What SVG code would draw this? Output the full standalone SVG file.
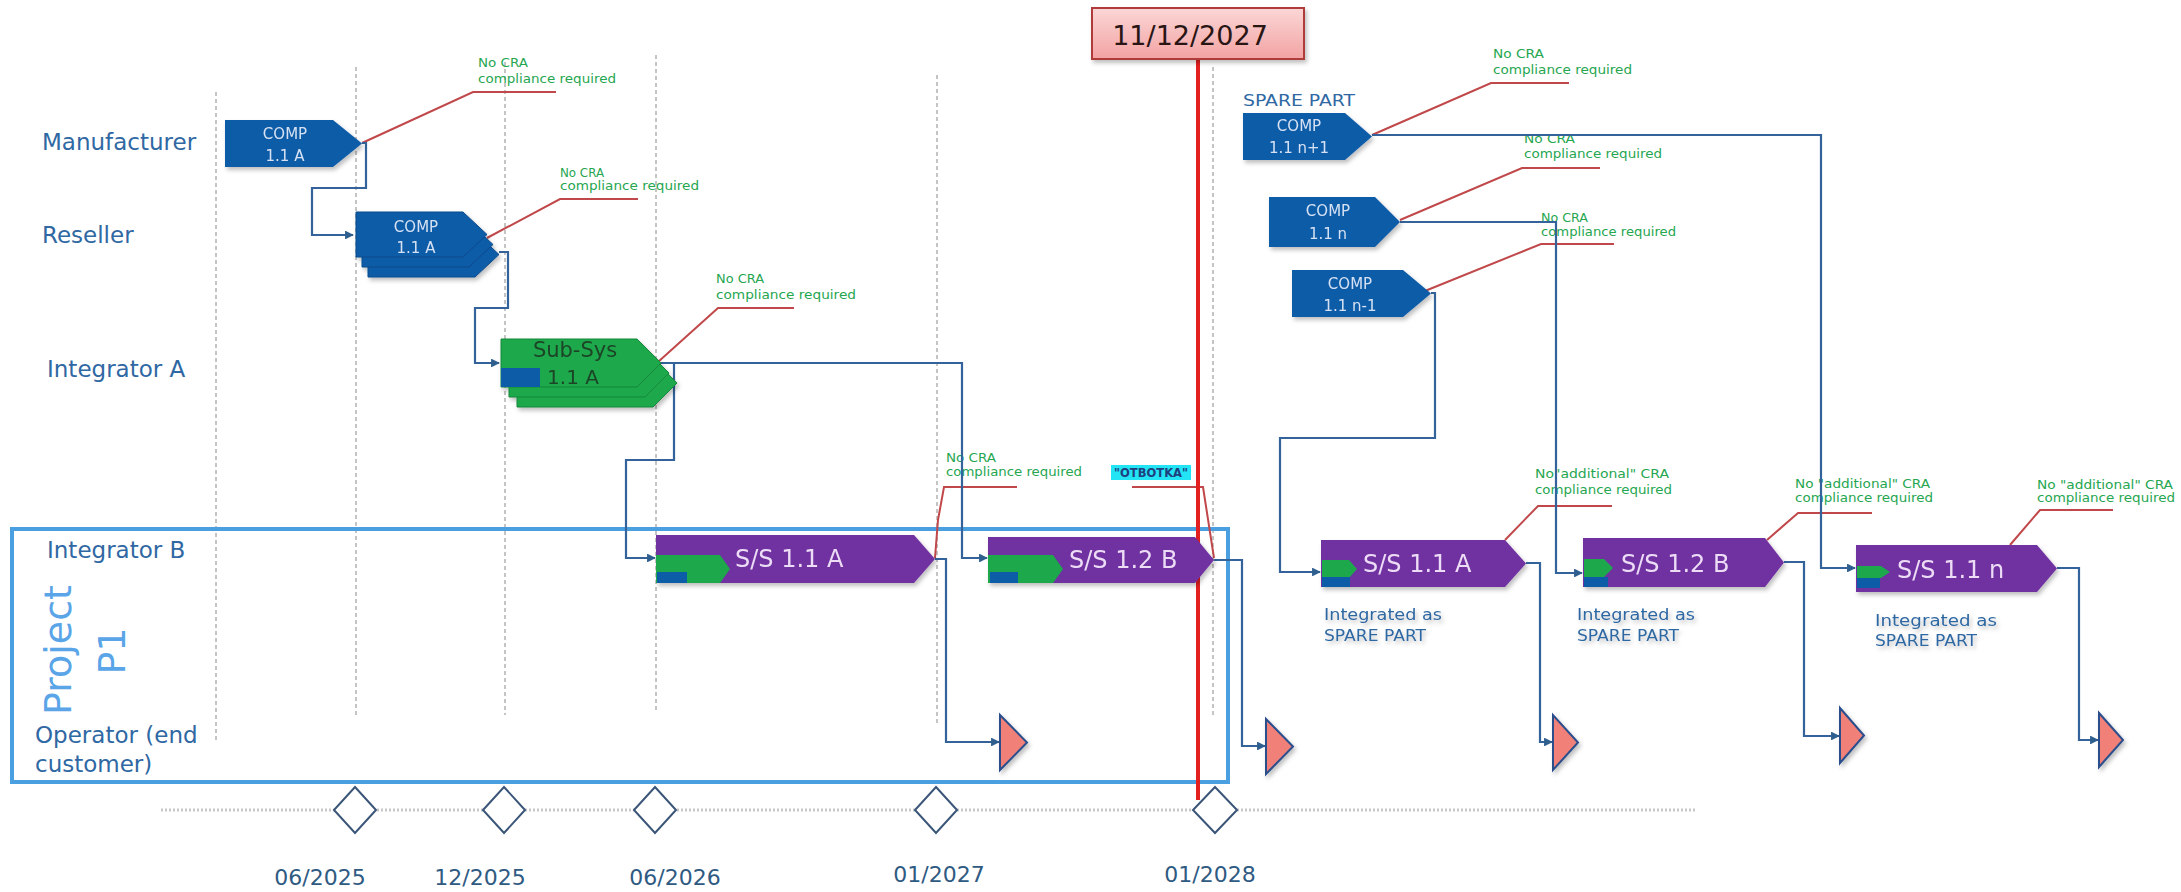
<svg xmlns="http://www.w3.org/2000/svg" width="2181" height="892" viewBox="0 0 2181 892">
<defs>
  <style>
    .lbl{font-family:"DejaVu Sans","Liberation Sans",sans-serif;font-size:23px;fill:#2f68a3}
    .date{font-family:"DejaVu Sans","Liberation Sans",sans-serif;font-size:22px;fill:#2f5a82}
    .grn{font-family:"DejaVu Sans","Liberation Sans",sans-serif;font-size:12px;fill:#25a650}
    .comp{fill:#0e5ba8}
    .compt{font-family:"DejaVu Sans","Liberation Sans",sans-serif;font-size:15px;fill:#d6e2f3;text-anchor:middle}
    .ss{fill:#7030a0}
    .sst{font-family:"DejaVu Sans","Liberation Sans",sans-serif;font-size:24px;fill:#ecdcf6}
    .gr{fill:#1ea84b}
    .grs{fill:#1ea84b;stroke:#15893a;stroke-width:1}
    .bl{fill:#0e5ba8}
    .con{fill:none;stroke:#33639a;stroke-width:2.2}
    .red{fill:none;stroke:#c0484a;stroke-width:2}
    .vd{fill:none;stroke:#8a8a8a;stroke-width:1;stroke-dasharray:4 3}
    .dia{fill:#ffffff;stroke:#3a5577;stroke-width:2}
    .tri{fill:#f08078;stroke:#2b4e8c;stroke-width:2}
    .spt{font-family:"DejaVu Sans","Liberation Sans",sans-serif;font-size:16px;fill:#2f68a3}
  </style>
  <marker id="arr" viewBox="0 0 10 10" refX="9" refY="5" markerWidth="4" markerHeight="4" orient="auto">
    <path d="M0,0 L10,5 L0,10 z" fill="#2f5f8f"/>
  </marker>
  <linearGradient id="pink" x1="0" y1="0" x2="0" y2="1">
    <stop offset="0" stop-color="#fbd6d6"/>
    <stop offset="1" stop-color="#f3a3a3"/>
  </linearGradient>
  <filter id="sh" x="-10%" y="-10%" width="130%" height="140%">
    <feDropShadow dx="2" dy="3" stdDeviation="2" flood-color="#000" flood-opacity="0.25"/>
  </filter>
</defs>
<rect width="2181" height="892" fill="#ffffff"/>

<!-- grid dashed lines -->
<g id="gridlines">
  <line class="vd" x1="216" y1="92" x2="216" y2="743"/>
  <line class="vd" x1="356" y1="67" x2="356" y2="715"/>
  <line class="vd" x1="505" y1="62" x2="505" y2="715"/>
  <line class="vd" x1="656" y1="55" x2="656" y2="712"/>
  <line class="vd" x1="937" y1="75" x2="937" y2="723"/>
  <line class="vd" x1="1213" y1="67" x2="1213" y2="715"/>
</g>

<!-- timeline -->
<g id="timeline">
  <line x1="161" y1="810" x2="1697" y2="810" stroke="#c8c8c8" stroke-width="3" stroke-dasharray="2 2"/>
  <path class="dia" d="M355,787 L376,810 L355,833 L334,810 Z"/>
  <path class="dia" d="M504,787 L525,810 L504,833 L483,810 Z"/>
  <path class="dia" d="M655,787 L676,810 L655,833 L634,810 Z"/>
  <path class="dia" d="M936,787 L957,810 L936,833 L915,810 Z"/>
  <text class="date" x="320" y="885" text-anchor="middle">06/2025</text>
  <text class="date" x="480" y="885" text-anchor="middle">12/2025</text>
  <text class="date" x="675" y="885" text-anchor="middle">06/2026</text>
  <text class="date" x="939" y="882" text-anchor="middle">01/2027</text>
  <text class="date" x="1210" y="882" text-anchor="middle">01/2028</text>
</g>

<!-- project box -->
<g id="project">
  <rect x="12" y="529" width="1216" height="253" fill="none" stroke="#4a9fe0" stroke-width="4"/>
  <text transform="translate(71,650) rotate(-90)" text-anchor="middle" style="font-family:'DejaVu Sans','Liberation Sans',sans-serif;font-size:38px;fill:#5aa5e8">Project</text>
  <text transform="translate(125,651) rotate(-90)" text-anchor="middle" style="font-family:'DejaVu Sans','Liberation Sans',sans-serif;font-size:38px;fill:#5aa5e8">P1</text>
</g>

<!-- row labels -->
<g id="rows">
  <text class="lbl" x="42" y="150">Manufacturer</text>
  <text class="lbl" x="42" y="243">Reseller</text>
  <text class="lbl" x="47" y="377">Integrator A</text>
  <text class="lbl" x="47" y="558">Integrator B</text>
  <text class="lbl" x="35" y="743">Operator (end</text>
  <text class="lbl" x="35" y="772">customer)</text>
</g>

<!-- annotations -->
<g id="annotations">
  <path class="red" d="M556,92 H473 L362,143"/>
  <text class="grn" x="478" y="67" textLength="50" lengthAdjust="spacingAndGlyphs">No CRA</text>
  <text class="grn" x="478" y="83" textLength="138" lengthAdjust="spacingAndGlyphs">compliance required</text>

  <path class="red" d="M638,199 H560 L487,238"/>
  <text class="grn" x="560" y="177" textLength="44" lengthAdjust="spacingAndGlyphs">No CRA</text>
  <text class="grn" x="560" y="190" textLength="139" lengthAdjust="spacingAndGlyphs">compliance required</text>

  <path class="red" d="M794,308 H718 L658,362"/>
  <text class="grn" x="716" y="283" textLength="48" lengthAdjust="spacingAndGlyphs">No CRA</text>
  <text class="grn" x="716" y="299" textLength="140" lengthAdjust="spacingAndGlyphs">compliance required</text>

  <path class="red" d="M1017,487 H944 L938,520 L935,558"/>
  <text class="grn" x="946" y="462" textLength="50" lengthAdjust="spacingAndGlyphs">No CRA</text>
  <text class="grn" x="946" y="476" textLength="136" lengthAdjust="spacingAndGlyphs">compliance required</text>

  <path class="red" d="M1132,487 H1203 L1214,558"/>
  <rect x="1111" y="465" width="80" height="15" fill="#22e4f4"/>
  <text x="1151" y="477" text-anchor="middle" textLength="74" lengthAdjust="spacingAndGlyphs" style="font-family:'DejaVu Sans','Liberation Sans',sans-serif;font-size:12px;font-weight:bold;fill:#1f3f7f">"OTBOTKA"</text>

  <path class="red" d="M1569,83 H1491 L1372,135"/>
  <text class="grn" x="1493" y="58" textLength="51" lengthAdjust="spacingAndGlyphs">No CRA</text>
  <text class="grn" x="1493" y="74" textLength="139" lengthAdjust="spacingAndGlyphs">compliance required</text>

  <path class="red" d="M1600,168 H1522 L1400,220"/>
  <text class="grn" x="1524" y="143" textLength="51" lengthAdjust="spacingAndGlyphs">No CRA</text>
  <text class="grn" x="1524" y="158" textLength="138" lengthAdjust="spacingAndGlyphs">compliance required</text>

  <path class="red" d="M1614,244 H1541 L1420,293"/>
  <text class="grn" x="1541" y="222" textLength="47" lengthAdjust="spacingAndGlyphs">No CRA</text>
  <text class="grn" x="1541" y="236" textLength="135" lengthAdjust="spacingAndGlyphs">compliance required</text>

  <path class="red" d="M1612,506 H1538 L1505,540"/>
  <text class="grn" x="1535" y="478" textLength="134" lengthAdjust="spacingAndGlyphs">No"additional" CRA</text>
  <text class="grn" x="1535" y="494" textLength="137" lengthAdjust="spacingAndGlyphs">compliance required</text>

  <path class="red" d="M1872,513 H1798 L1767,540"/>
  <text class="grn" x="1795" y="488" textLength="135" lengthAdjust="spacingAndGlyphs">No "additional" CRA</text>
  <text class="grn" x="1795" y="502" textLength="138" lengthAdjust="spacingAndGlyphs">compliance required</text>

  <path class="red" d="M2113,510 H2040 L2010,545"/>
  <text class="grn" x="2037" y="489" textLength="136" lengthAdjust="spacingAndGlyphs">No "additional" CRA</text>
  <text class="grn" x="2037" y="502" textLength="138" lengthAdjust="spacingAndGlyphs">compliance required</text>
</g>

<!-- connectors -->
<g id="connectors">
  <path class="con" d="M362,143 H366 V188 H312 V235 H353" marker-end="url(#arr)"/>
  <path class="con" d="M499,252 H508 V308 H475 V363 H499" marker-end="url(#arr)"/>
  <path class="con" d="M661,363 H962 V558 H987" marker-end="url(#arr)"/>
  <path class="con" d="M674,363 V460 H626 V558 H655" marker-end="url(#arr)"/>
  <path class="con" d="M935,559 H946 V742 H999" marker-end="url(#arr)"/>
  <path class="con" d="M1214,560 H1242 V746 H1265" marker-end="url(#arr)"/>
  <path class="con" d="M1372,135 H1821 V568 H1855" marker-end="url(#arr)"/>
  <path class="con" d="M1400,222 H1556 V573 H1582" marker-end="url(#arr)"/>
  <path class="con" d="M1431,293 H1435 V438 H1280 V572 H1320" marker-end="url(#arr)"/>
  <path class="con" d="M1526,563 H1540 V742 H1552" marker-end="url(#arr)"/>
  <path class="con" d="M1784,562 H1804 V736 H1839" marker-end="url(#arr)"/>
  <path class="con" d="M2057,568 H2079 V740 H2098" marker-end="url(#arr)"/>
</g>

<!-- milestone red line -->
<g id="cutoff">
  <line x1="1198" y1="59" x2="1198" y2="800" stroke="#e3201f" stroke-width="4"/>
  <path class="dia" d="M1215,787 L1237,810 L1215,833 L1193,810 Z"/>
  <rect x="1092" y="8" width="212" height="51" fill="url(#pink)" stroke="#b03a3a" stroke-width="2" filter="url(#sh)"/>
  <text x="1190" y="45" text-anchor="middle" style="font-family:'DejaVu Sans','Liberation Sans',sans-serif;font-size:27px;fill:#2a1515">11/12/2027</text>
</g>

<!-- nodes -->
<g id="comp-manufacturer" filter="url(#sh)">
  <path class="comp" d="M225,120 H333 L362,143.5 L333,167 H225 Z"/>
  <text class="compt" x="285" y="139">COMP</text>
  <text class="compt" x="285" y="161">1.1 A</text>
</g>

<g id="comp-reseller" filter="url(#sh)">
  <path class="comp" d="M368,232 H475 L499,254.5 L475,277 H368 Z" stroke="#0a4a8c" stroke-width="1"/>
  <path class="comp" d="M362,222 H469 L493,244.5 L469,267 H362 Z" stroke="#0a4a8c" stroke-width="1"/>
  <path class="comp" d="M356,212 H463 L487,234.5 L463,257 H356 Z" stroke="#0a4a8c" stroke-width="1"/>
  <text class="compt" x="416" y="232">COMP</text>
  <text class="compt" x="416" y="253">1.1 A</text>
</g>

<g id="subsys-a" filter="url(#sh)">
  <path class="grs" d="M517,359 H653 L677,383 L653,407 H517 Z"/>
  <path class="grs" d="M509,349 H645 L669,373 L645,397 H509 Z"/>
  <path class="grs" d="M501,339 H637 L661,363 L637,387 H501 Z"/>
  <rect class="bl" x="501" y="368" width="39" height="19"/>
  <text x="575" y="357" text-anchor="middle" style="font-family:'DejaVu Sans','Liberation Sans',sans-serif;font-size:21px;fill:#1c4428">Sub-Sys</text>
  <text x="573" y="384" text-anchor="middle" style="font-family:'DejaVu Sans','Liberation Sans',sans-serif;font-size:20px;fill:#1c4428">1.1 A</text>
</g>

<g id="ss-11a-p1" filter="url(#sh)">
  <path class="ss" d="M656,535 H914 L935,559 L914,583 H656 Z"/>
  <path class="gr" d="M656,555 H720 L730,569 L720,583 H656 Z"/>
  <rect class="bl" x="657" y="572" width="30" height="11"/>
  <text class="sst" x="735" y="567">S/S 1.1 A</text>
</g>

<g id="ss-12b-p1" filter="url(#sh)">
  <path class="ss" d="M988,537 H1195 L1214,560 L1195,583 H988 Z"/>
  <path class="gr" d="M988,555 H1053 L1063,569 L1053,583 H988 Z"/>
  <rect class="bl" x="990" y="572" width="28" height="11"/>
  <text class="sst" x="1069" y="568">S/S 1.2 B</text>
</g>

<g id="spare-label">
  <text class="spt" x="1243" y="106" textLength="112" lengthAdjust="spacingAndGlyphs">SPARE PART</text>
</g>

<g id="comp-n1" filter="url(#sh)">
  <path class="comp" d="M1243,113 H1345 L1372,136.5 L1345,160 H1243 Z"/>
  <text class="compt" x="1299" y="131">COMP</text>
  <text class="compt" x="1299" y="153">1.1 n+1</text>
</g>

<g id="comp-n" filter="url(#sh)">
  <path class="comp" d="M1269,197 H1375 L1400,222 L1375,247 H1269 Z"/>
  <text class="compt" x="1328" y="216">COMP</text>
  <text class="compt" x="1328" y="239">1.1 n</text>
</g>

<g id="comp-nm1" filter="url(#sh)">
  <path class="comp" d="M1292,270 H1403 L1431,293.5 L1403,317 H1292 Z"/>
  <text class="compt" x="1350" y="289">COMP</text>
  <text class="compt" x="1350" y="311">1.1 n-1</text>
</g>

<g id="ss-11a-spare" filter="url(#sh)">
  <path class="ss" d="M1321,540 H1505 L1526,563.5 L1505,587 H1321 Z"/>
  <path class="gr" d="M1322,560 H1349 L1357,569 L1349,578 H1322 Z"/>
  <rect class="bl" x="1322" y="577" width="28" height="10"/>
  <text class="sst" x="1363" y="572">S/S 1.1 A</text>
  <text class="spt" x="1324" y="620" textLength="118" lengthAdjust="spacingAndGlyphs">Integrated as</text>
  <text class="spt" x="1324" y="641" textLength="102" lengthAdjust="spacingAndGlyphs">SPARE PART</text>
</g>

<g id="ss-12b-spare" filter="url(#sh)">
  <path class="ss" d="M1583,538 H1765 L1784,562.5 L1765,587 H1583 Z"/>
  <path class="gr" d="M1584,559 H1604 L1613,568 L1604,577 H1584 Z"/>
  <rect class="bl" x="1584" y="577" width="24" height="10"/>
  <text class="sst" x="1621" y="572">S/S 1.2 B</text>
  <text class="spt" x="1577" y="620" textLength="118" lengthAdjust="spacingAndGlyphs">Integrated as</text>
  <text class="spt" x="1577" y="641" textLength="102" lengthAdjust="spacingAndGlyphs">SPARE PART</text>
</g>

<g id="ss-11n-spare" filter="url(#sh)">
  <path class="ss" d="M1856,545 H2037 L2057,568.5 L2037,592 H1856 Z"/>
  <path class="gr" d="M1857,566 H1881 L1890,572 L1881,578 H1857 Z"/>
  <rect class="bl" x="1857" y="578" width="23" height="10"/>
  <text class="sst" x="1897" y="578">S/S 1.1 n</text>
  <text class="spt" x="1875" y="626" textLength="122" lengthAdjust="spacingAndGlyphs">Integrated as</text>
  <text class="spt" x="1875" y="646" textLength="102" lengthAdjust="spacingAndGlyphs">SPARE PART</text>
</g>

<!-- operator endpoints -->
<g id="operator-endpoints" filter="url(#sh)">
  <path class="tri" d="M1000,715 V770 L1027,742.5 Z"/>
  <path class="tri" d="M1266,719 V774 L1293,746.5 Z"/>
  <path class="tri" d="M1553,715 V770 L1578,742.5 Z"/>
  <path class="tri" d="M1840,708 V763 L1864,735.5 Z"/>
  <path class="tri" d="M2099,713 V767 L2123,740 Z"/>
</g>
</svg>
